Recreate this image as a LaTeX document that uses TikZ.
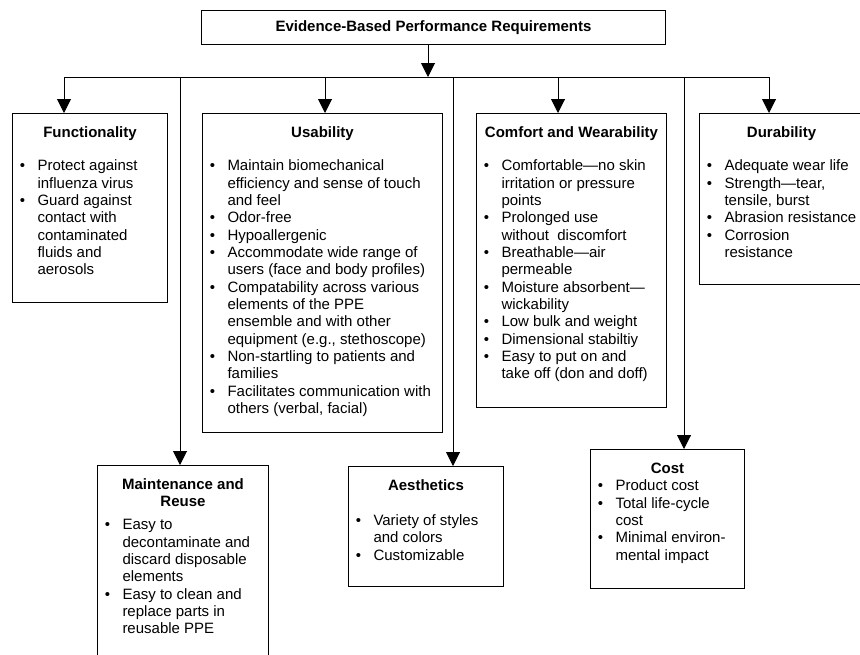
\documentclass[tikz,border=0pt]{standalone}
\usepackage{fontspec}
\setmainfont{Liberation Sans}
\usepackage{enumitem}
\usetikzlibrary{positioning,arrows.meta}
\newlist{reqlist}{itemize}{1}
\setlist[reqlist]{label=\textbullet,nosep,leftmargin=18.75pt,labelsep=9.3pt}
% width, height, title, gap below title, items
\newcommand{\reqbody}[5]{\parbox[c][#2][t]{#1}{\centering{\bfseries\rule{0pt}{18pt}#3\par}\vspace{#4}\raggedright\begin{reqlist}#5\end{reqlist}}}

\begin{document}
\begin{tikzpicture}[x=0.75pt,y=-0.75pt,
    every node/.style={font=\fontsize{11.25pt}{13pt}\selectfont},
    catbox/.style={draw,line width=0.75pt,inner sep=0pt,anchor=north west},
    arr/.style={-{Triangle[width=10.5pt,length=10.5pt]},line width=0.75pt}]
  \useasboundingbox (0,0) rectangle (860,654);
  \node[catbox,minimum width=348pt,minimum height=25.5pt,font=\fontsize{11.25pt}{13pt}\selectfont\bfseries] (top) at (201,10) {Evidence-Based Performance Requirements};
  \node[catbox] (func) at (12,113) {\reqbody{116.25pt}{141.75pt}{Functionality}{12pt}{%
    \item Protect against\\ influenza virus
    \item Guard against\\ contact with\\ contaminated\\ fluids and\\ aerosols}};
  \node[catbox] (usab) at (202,113) {\reqbody{180pt}{239.25pt}{Usability}{12pt}{%
    \item Maintain biomechanical\\ efficiency and sense of touch\\ and feel
    \item Odor-free
    \item Hypoallergenic
    \item Accommodate wide range of\\ users (face and body profiles)
    \item Compatability across various\\ elements of the PPE\\ ensemble and with other\\ equipment (e.g., stethoscope)
    \item Non-startling to patients and\\ families
    \item Facilitates communication with\\ others (verbal, facial)}};
  \node[catbox] (comf) at (476,113) {\reqbody{142.5pt}{220.5pt}{Comfort and Wearability}{12pt}{%
    \item Comfortable—no skin\\ irritation or pressure\\ points
    \item Prolonged use\\ without\ \ discomfort
    \item Breathable—air\\ permeable
    \item Moisture absorbent—\\ wickability
    \item Low bulk and weight
    \item Dimensional stabiltiy
    \item Easy to put on and\\ take off (don and doff)}};
  \node[catbox] (dura) at (699,113) {\reqbody{123pt}{128.25pt}{Durability}{12pt}{%
    \item Adequate wear life
    \item Strength—tear,\\ tensile, burst
    \item Abrasion resistance
    \item Corrosion\\ resistance}};
  \node[catbox] (maint) at (97,465) {\reqbody{128.25pt}{153.75pt}{Maintenance and\\ Reuse}{4.25pt}{%
    \item Easy to\\ decontaminate and\\ discard disposable\\ elements
    \item Easy to clean and\\ replace parts in\\ reusable PPE}};
  \node[catbox] (aest) at (348,466) {\reqbody{116.25pt}{90pt}{Aesthetics}{13.25pt}{%
    \item Variety of styles\\ and colors
    \item Customizable}};
  \node[catbox] (cost) at (590,449) {\reqbody{115.5pt}{104.25pt}{Cost}{0pt}{%
    \item Product cost
    \item Total life-cycle\\ cost
    \item Minimal environ-\\ mental impact}};
  \coordinate (hub) at (428,77);
  \coordinate (tapF) at (64,77);
  \coordinate (tapM) at (180,77);
  \coordinate (tapU) at (325,77);
  \coordinate (tapA) at (453,77);
  \coordinate (tapC) at (558,77);
  \coordinate (tapK) at (684,77);
  \coordinate (tapD) at (769,77);
  \draw[arr] (top.south -| hub) -- (hub);
  \draw[line width=0.75pt] (tapF) -- (tapD);
  \draw[arr] (tapF) -- (tapF |- func.north);
  \draw[arr] (tapM) -- (tapM |- maint.north);
  \draw[arr] (tapU) -- (tapU |- usab.north);
  \draw[arr] (tapA) -- (tapA |- aest.north);
  \draw[arr] (tapC) -- (tapC |- comf.north);
  \draw[arr] (tapK) -- (tapK |- cost.north);
  \draw[arr] (tapD) -- (tapD |- dura.north);
\end{tikzpicture}
\end{document}
